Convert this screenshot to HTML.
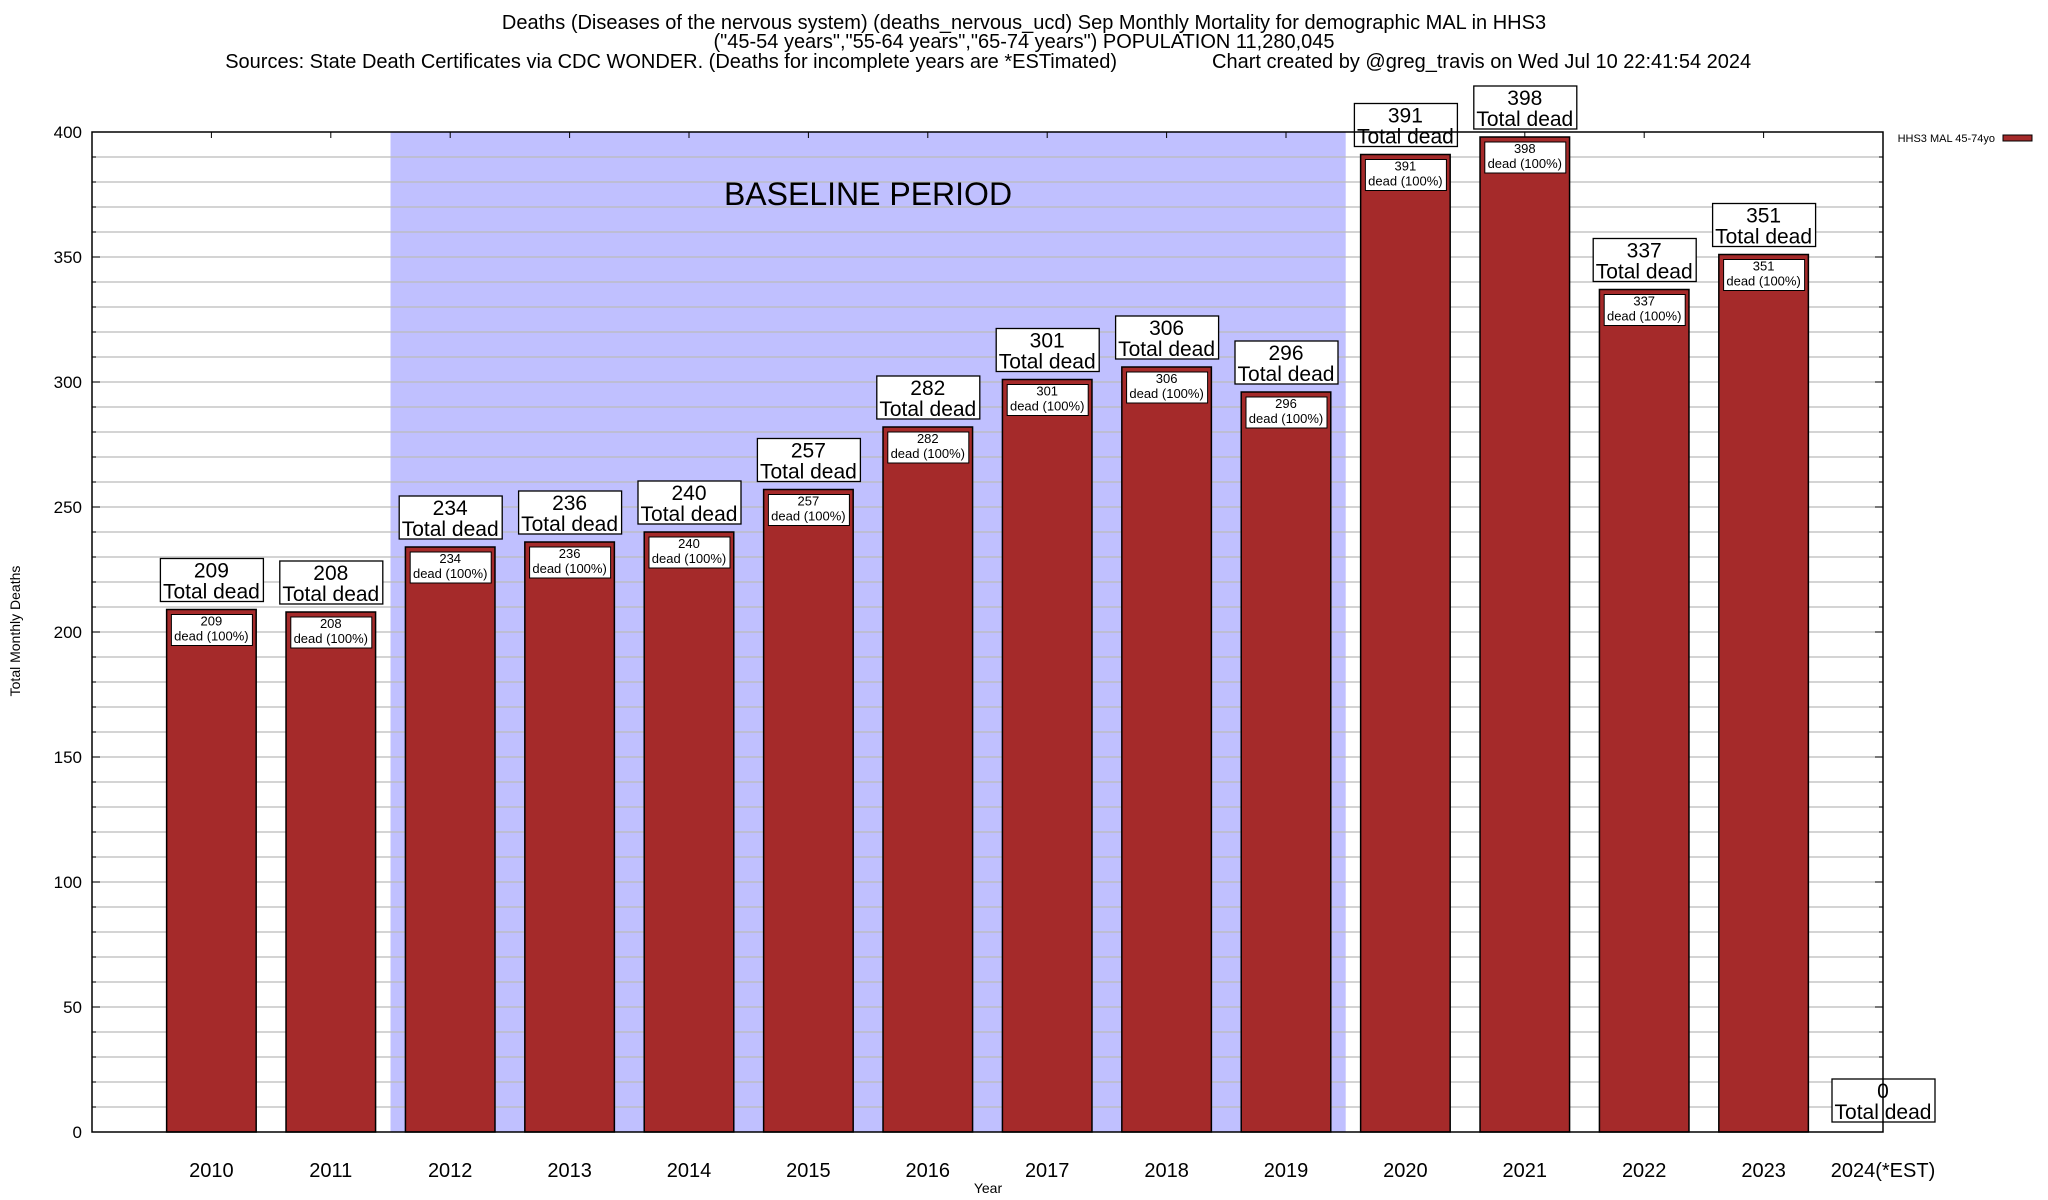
<!DOCTYPE html>
<html><head><meta charset="utf-8"><style>
body{margin:0;background:#fff}
svg{display:block;font-family:"Liberation Sans",sans-serif}
</style></head><body>
<svg id="c" width="2048" height="1200" xmlns="http://www.w3.org/2000/svg">
<text x="1024" y="29" font-size="20" text-anchor="middle">Deaths (Diseases of the nervous system) (deaths_nervous_ucd) Sep Monthly Mortality for demographic MAL in HHS3</text>
<text x="1024" y="48" font-size="20" text-anchor="middle">("45-54 years","55-64 years","65-74 years") POPULATION 11,280,045</text>
<text x="1117" y="68" font-size="20" text-anchor="end">Sources: State Death Certificates via CDC WONDER. (Deaths for incomplete years are *ESTimated)</text>
<text x="1212" y="68" font-size="20">Chart created by @greg_travis on Wed Jul 10 22:41:54 2024</text>
<g id="plot"></g>
<text x="20" y="631" font-size="14" text-anchor="middle" transform="rotate(-90 20 631)">Total Monthly Deaths</text>
<text x="988" y="1193" font-size="14" text-anchor="middle">Year</text>
<text x="1995" y="142" font-size="11" text-anchor="end">HHS3 MAL 45-74yo</text>
<rect x="2003" y="135" width="29" height="6" fill="#a52a2a" stroke="#000" stroke-width="1"/>
</svg>
<script>
const categories=["2010","2011","2012","2013","2014","2015","2016","2017","2018","2019","2020","2021","2022","2023","2024(*EST)"];
const values=[209,208,234,236,240,257,282,301,306,296,391,398,337,351,0];
const yTicks=[0,50,100,150,200,250,300,350,400];
const baselineStart=2,baselineEnd=9;
const NS="http://www.w3.org/2000/svg";
const L=92,R=1883,T=132,B=1132,yMax=400;
const step=(R-L)/15;
function xS(i){return L+(i+1)*step;}
function yS(v){return B-(v/yMax)*(B-T);}
const g=document.getElementById('plot');
function mk(tag,attrs,parent){const e=document.createElementNS(NS,tag);for(const k in attrs)e.setAttribute(k,attrs[k]);(parent||g).appendChild(e);return e;}
let sh=mk('rect',{x:xS(baselineStart)-step/2,y:T,width:xS(baselineEnd)-xS(baselineStart)+step,height:B-T,fill:'#c0c0ff'});


for(let v=10;v<yMax;v+=10){
  let ln=mk('line',{x1:L,x2:R,y1:yS(v),y2:yS(v),stroke:'#bbb','stroke-width':1.3});
  
  
  mk('line',{x1:L,x2:L+(v%50?4:8),y1:yS(v),y2:yS(v),stroke:'#000'});
  mk('line',{x1:R,x2:R-(v%50?4:8),y1:yS(v),y2:yS(v),stroke:'#000'});
}
let bt=mk('text',{x:868,y:205,'font-size':32,'text-anchor':'middle'});bt.textContent='BASELINE PERIOD';


yTicks.forEach(v=>{
  let t=mk('text',{x:L-10,y:yS(v)+6,'font-size':17,'text-anchor':'end'});t.textContent=v;
  
  
});
const bw=step*0.75;
categories.forEach((c,i)=>{
  const cx=xS(i),v=values[i],y=yS(v);
  mk('line',{x1:cx,x2:cx,y1:T,y2:T+6,stroke:'#000'});
  if(v>0){
    let r=mk('rect',{x:cx-bw/2,y:y,width:bw,height:B-y,fill:'#a52a2a',stroke:'#000','stroke-width':1.5});
    
    
    let ib=mk('rect',{x:cx-40,y:y+5,width:81,height:31,fill:'#fff',stroke:'#000','stroke-width':1});
    
    
    let t1=mk('text',{x:cx,y:y+16,'font-size':13,'text-anchor':'middle'});t1.textContent=v;
    let t2=mk('text',{x:cx,y:y+31,'font-size':13,'text-anchor':'middle'});t2.textContent='dead (100%)';
  }
  const by=(v>0?y-51:B-53);
  let ob=mk('rect',{x:cx-51,y:by,width:103,height:43,fill:'#fff',stroke:'#000','stroke-width':1.3});
  
  
  let o1=mk('text',{x:cx,y:by+19,'font-size':21,'text-anchor':'middle'});o1.textContent=v;
  let o2=mk('text',{x:cx,y:by+40,'font-size':21,'text-anchor':'middle'});o2.textContent='Total dead';
  let xl=mk('text',{x:cx,y:1177,'font-size':20,'text-anchor':'middle'});xl.textContent=c;
  
  
});
let fr=mk('rect',{x:L,y:T,width:R-L,height:B-T,fill:'none',stroke:'#000','stroke-width':1.5});


</script>
</body></html>
